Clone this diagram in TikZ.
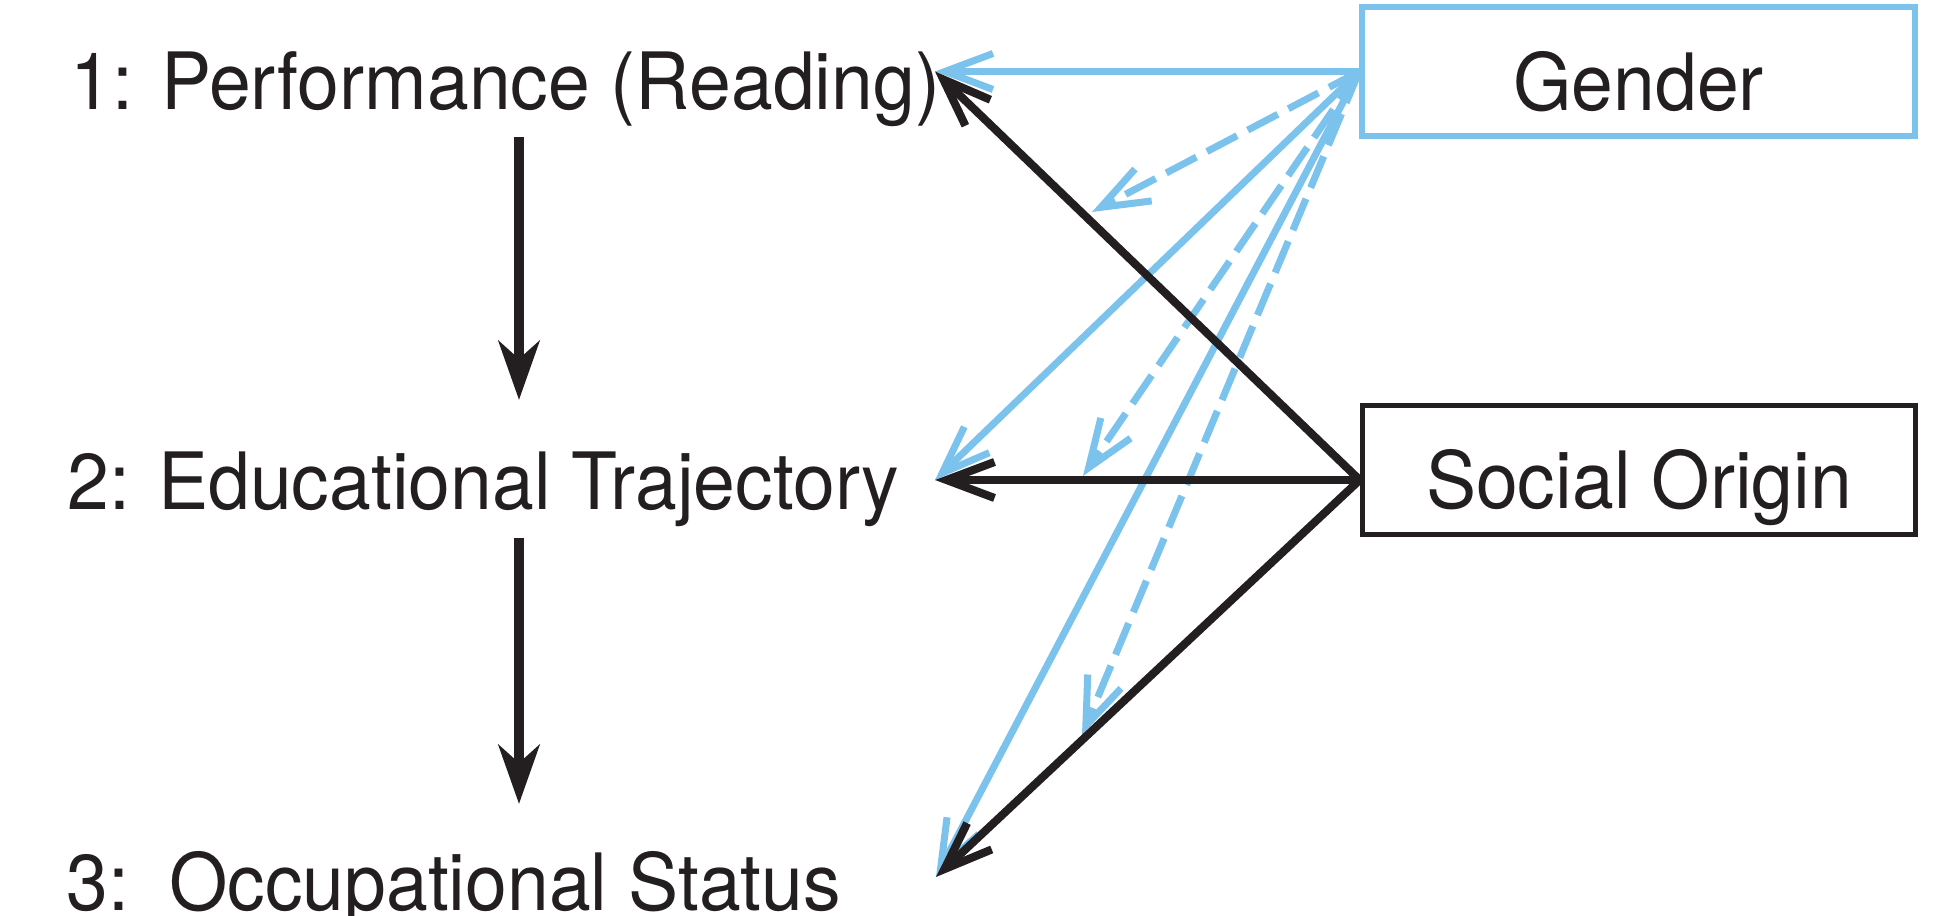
\documentclass[tikz,border=0pt]{standalone}
\usepackage{fontspec}
\setmainfont{TeX Gyre Heros}[FakeStretch=0.95]
\usetikzlibrary{arrows.meta,positioning,calc}
\definecolor{gendblue}{RGB}{123,195,237}
\definecolor{inkblack}{RGB}{35,31,32}

\begin{document}
\begin{tikzpicture}[x=1cm,y=1cm,font=\fontsize{22.5}{27}\selectfont,
  varbox/.style={draw,line width=1.6pt,minimum width=5.53cm,minimum height=1.29cm,
                 text height=0.78cm,text depth=0pt,inner sep=0pt,text=inkblack},
  outcome/.style={anchor=base west,inner sep=0pt,text=inkblack},
  stage/.style={line width=2.8pt,inkblack,-{Stealth[length=5.9mm,width=4.1mm,inset=1.8mm]}},
  effect/.style={line width=2.3pt,inkblack,-{Straight Barb[length=4.8mm,width=3.6mm]}},
  geffect/.style={line width=2pt,gendblue,-{Straight Barb[length=4.8mm,width=3.6mm]}},
  moder/.style={geffect,dash pattern=on 3.4mm off 1.2mm}]
\useasboundingbox (0,0) rectangle (19.54,9.16);
% ---------- outcomes ----------
\node[outcome] (perf) at (0.70,8.06) {1: Performance (Reading)};
\node[outcome] (edu)  at (0.67,4.06) {2: Educational Trajectory};
\node[outcome] (occ)  at (0.66,0.05) {3:\hspace{0.12cm} Occupational Status};
% ---------- background variables ----------
\node[varbox,draw=gendblue] (gender) at (16.385,8.445) {Gender};
\node[varbox,draw=inkblack] (social) at (16.39,4.46) {Social Origin};
% end points
\coordinate (so) at ($(social.west)+(0,-0.1)$);
\coordinate (t1) at (9.35,8.445);
\coordinate (t2) at (9.35,4.36);
\coordinate (t3) at (9.36,0.39);
\coordinate (d1) at (10.92,7.04);
\coordinate (d2) at (10.83,4.40);
\coordinate (d3) at (10.82,1.81);
\coordinate (v1) at (5.19,7.79);
\coordinate (v2) at (5.19,5.16);
\coordinate (v3) at (5.19,3.78);
\coordinate (v4) at (5.19,1.12);
% ---------- life course ----------
\draw[stage] (v1) -- (v2);
\draw[stage] (v3) -- (v4);
% ---------- gender effects ----------
\foreach \t in {t1,t2,t3}
  \draw[geffect] (gender.west) -- (\t);
\foreach \d in {d1,d2,d3}
  \draw[moder] (gender.west) -- (\d);
% ---------- social origin effects ----------
\foreach \t in {t1,t2,t3}
  \draw[effect] (so) -- (\t);
\end{tikzpicture}
\end{document}
